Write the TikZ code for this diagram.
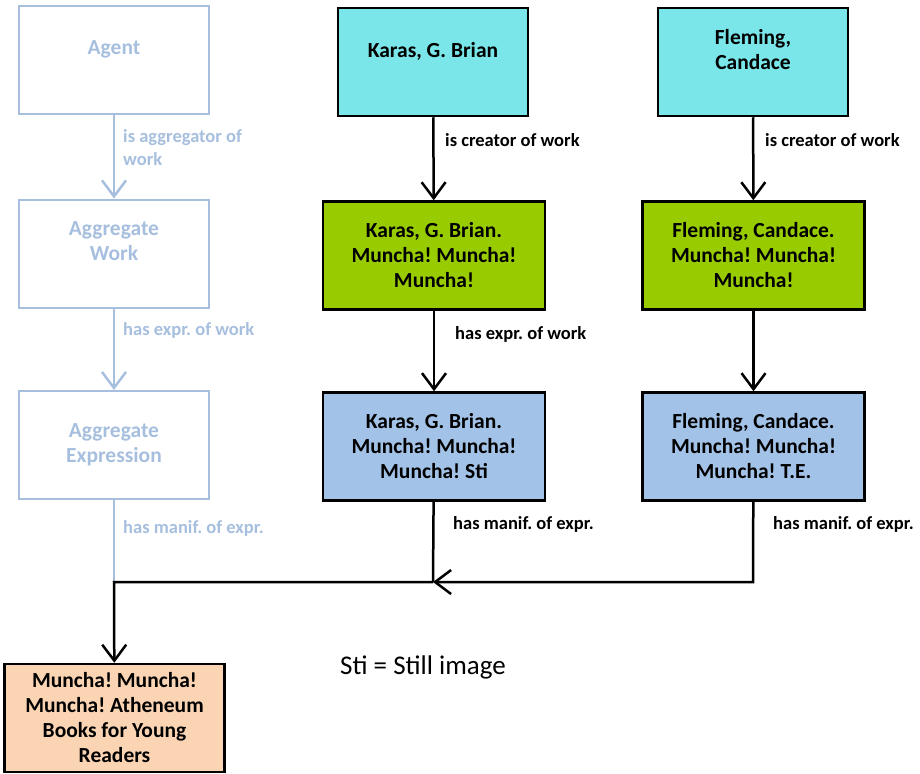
\documentclass[tikz,border=0pt]{standalone}
\usepackage{fontspec}
\setmainfont{Carlito}
\usepackage{tikz}
\usetikzlibrary{arrows.meta, positioning}
\definecolor{agentCyan}{HTML}{7AE6EA}
\definecolor{workGreen}{HTML}{99CC00}
\definecolor{exprBlue}{HTML}{A3C2E8}
\definecolor{manifOrange}{HTML}{FBD4B4}
\definecolor{faded}{HTML}{A7BFDE}
\frenchspacing
\tikzset{
  box/.style={rectangle, draw=black, line width=2.5pt, align=center,
              inner sep=0pt, minimum width=190pt, minimum height=108pt,
              font=\fontsize{21.5}{25}\selectfont\bfseries},
  agentBox/.style={box, fill=agentCyan},
  workBox/.style={box, fill=workGreen, minimum width=222pt},
  exprBox/.style={box, fill=exprBlue, minimum width=222pt},
  manifBox/.style={box, fill=manifOrange, minimum width=220pt},
  fadedBox/.style={box, draw=faded, line width=2pt, text=faded},
  relLbl/.style={anchor=west, inner sep=0pt, align=left,
                 font=\fontsize{18.5}{23}\selectfont\bfseries},
  fadedLbl/.style={relLbl, text=faded},
  relArr/.style={draw=black, line width=2.5pt,
                 -{Straight Barb[length=16pt, width=24pt]}},
  relLine/.style={draw=black, line width=2.5pt},
  fadedArr/.style={relArr, draw=faded},
  fadedLine/.style={relLine, draw=faded, line width=2pt},
}
\begin{document}
\begin{tikzpicture}[x=1pt, y=-1pt]
    \useasboundingbox (0,0) rectangle (920,773);
    %% aggregate chain (faded)
    \node[fadedBox] (agent)   at (114,60.5)  {Agent\\~};
    \node[fadedBox] (aggWork) at (114,253.5) {Aggregate\\Work\\~};
    \node[fadedBox] (aggExpr) at (114,445)   {Aggregate\\Expression};
    %% agents
    \node[agentBox] (karas)   at (433,62) {Karas, G. Brian\\~};
    \node[agentBox] (fleming) at (753,62) {Fleming,\\Candace\\~};
    %% works
    \node[workBox] (karasW)   at (434,255.5)
      {Karas, G. Brian.\\Muncha! Muncha!\\Muncha!};
    \node[workBox] (flemingW) at (753.5,255.5)
      {Fleming, Candace.\\Muncha! Muncha!\\Muncha!};
    %% expressions
    \node[exprBox] (karasE)   at (434,446.5)
      {Karas, G. Brian.\\Muncha! Muncha!\\Muncha! Sti};
    \node[exprBox] (flemingE) at (753.5,446.5)
      {Fleming, Candace.\\Muncha! Muncha!\\Muncha! T.E.};
    %% manifestation
    \node[manifBox] (manif) at (114.5,718)
      {Muncha! Muncha!\\Muncha! Atheneum\\Books for Young\\Readers};
    %% junctions
    \coordinate (joinK) at (433,582);
    \coordinate (joinF) at (753,582);
    \coordinate (joinM) at (114,582);
    %% faded relations
    \draw[fadedArr] (agent) -- (aggWork);
    \draw[fadedArr] (aggWork) -- (aggExpr);
    \draw[fadedLine] (aggExpr) -- (joinM);
    \node[fadedLbl] (lblAgg)  at (123,148) {is aggregator of\\work};
    \node[fadedLbl] (lblAggE) at (123,330) {has expr. of work};
    \node[fadedLbl] (lblAggM) at (123,528) {has manif. of expr.};
    %% relations
    \draw[relArr] (karas) -- (karasW);
    \draw[relArr] (fleming) -- (flemingW);
    \draw[relArr] (karasW) -- (karasE);
    \draw[relArr] (flemingW) -- (flemingE);
    \draw[relLine] (karasE) -- (joinK);
    \draw[relArr] (flemingE) -- (joinF) -- (joinK);
    \draw[relArr] (joinK) -- (joinM) -- (manif);
    \node[relLbl] (lblKC) at (445,140) {is creator of work};
    \node[relLbl] (lblFC) at (765,140) {is creator of work};
    \node[relLbl] (lblKE) at (455,334) {has expr. of work};
    \node[relLbl] (lblKM) at (453,524) {has manif. of expr.};
    \node[relLbl] (lblFM) at (773,524) {has manif. of expr.};
    %% note
    \node[anchor=west, inner sep=0pt, font=\fontsize{27}{30}\selectfont]
      (note) at (340,667) {Sti = Still image};
\end{tikzpicture}
\end{document}
